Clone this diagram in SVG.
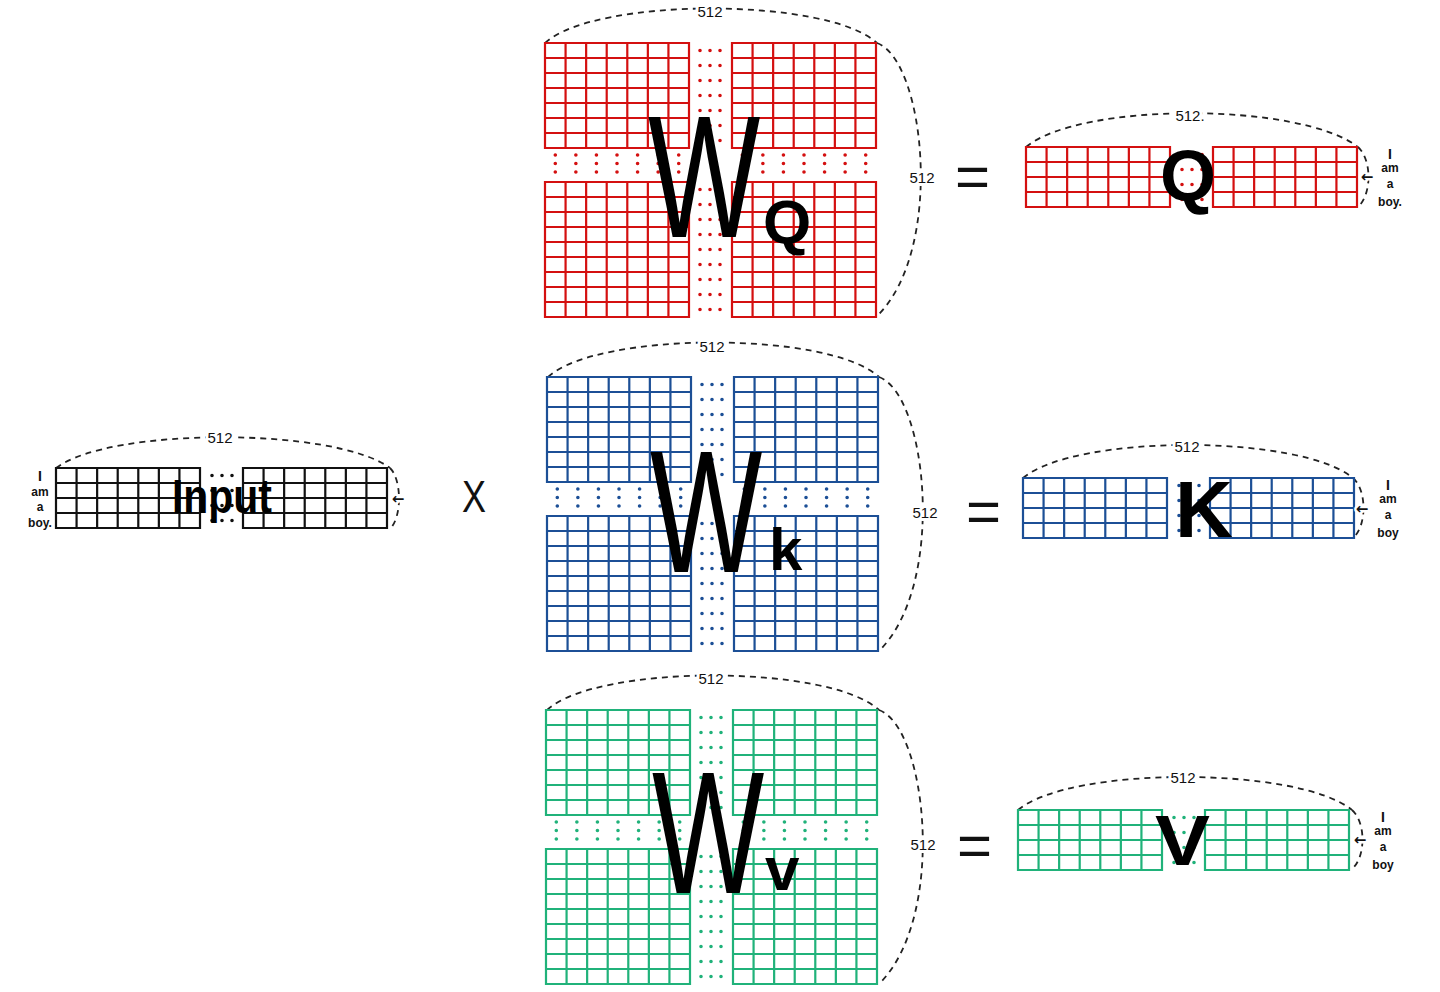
<svg xmlns="http://www.w3.org/2000/svg" xmlns:xlink="http://www.w3.org/1999/xlink" width="1440" height="992" viewBox="0 0 1440 992">
<style>
  .red{color:#d41010}
  .blue{color:#1c4f96}
  .green{color:#20b27a}
  .black{color:#111111}
  .arc{fill:none;stroke:#222;stroke-width:1.8;stroke-dasharray:6 5}
  .dim{font-family:"Liberation Sans",Arial,sans-serif;font-size:15px;fill:#111;text-anchor:middle;stroke:#fff;stroke-width:6px;paint-order:stroke;stroke-linejoin:round}
  .arrow{font-family:"DejaVu Sans",sans-serif;font-size:15px;font-weight:bold;fill:#111;text-anchor:middle;stroke:#fff;stroke-width:5px;paint-order:stroke;stroke-linejoin:round}
  .note{font-family:"Liberation Sans",Arial,sans-serif;font-size:12px;font-weight:bold;fill:#111;text-anchor:middle}
  .hand{font-family:"Liberation Sans",Arial,sans-serif;fill:#000}
  .bigw{font-family:"Liberation Sans",Arial,sans-serif;fill:#000;font-size:175px}
  .bold{font-weight:bold}
  .op{font-family:"Liberation Sans",Arial,sans-serif;fill:#111}
</style>
<defs>
  <path id="g77" fill="none" stroke="currentColor" stroke-width="2.2" d="M0,0H144V105H0Z M20.57,0V105 M41.14,0V105 M61.71,0V105 M82.29,0V105 M102.86,0V105 M123.43,0V105 M0,15H144 M0,30H144 M0,45H144 M0,60H144 M0,75H144 M0,90H144"/>
  <path id="g79" fill="none" stroke="currentColor" stroke-width="2.2" d="M0,0H144V135H0Z M20.57,0V135 M41.14,0V135 M61.71,0V135 M82.29,0V135 M102.86,0V135 M123.43,0V135 M0,15H144 M0,30H144 M0,45H144 M0,60H144 M0,75H144 M0,90H144 M0,105H144 M0,120H144"/>
  <path id="g74" fill="none" stroke="currentColor" stroke-width="2.2" d="M0,0H144V60H0Z M20.57,0V60 M41.14,0V60 M61.71,0V60 M82.29,0V60 M102.86,0V60 M123.43,0V60 M0,15H144 M0,30H144 M0,45H144"/>
  <g id="wmat">
    <use xlink:href="#g77" href="#g77" x="0" y="0"/>
    <use xlink:href="#g77" href="#g77" x="187" y="0"/>
    <use xlink:href="#g79" href="#g79" x="0" y="139"/>
    <use xlink:href="#g79" href="#g79" x="187" y="139"/>
    <path fill="none" stroke="currentColor" stroke-width="3.6" stroke-linecap="round" stroke-dasharray="0 15" d="M155,7.5V98 M165,7.5V98 M175,7.5V98 M155,146.5V267 M165,146.5V267 M175,146.5V267"/>
    <path fill="none" stroke="currentColor" stroke-width="3.6" stroke-linecap="round" stroke-dasharray="0 20.57" d="M10.3,112H135 M10.3,120.5H135 M10.3,129H135 M197.3,112H322 M197.3,120.5H322 M197.3,129H322"/>
  </g>
  <g id="vec">
    <use xlink:href="#g74" href="#g74" x="0" y="0"/>
    <use xlink:href="#g74" href="#g74" x="187" y="0"/>
    <path fill="none" stroke="currentColor" stroke-width="3.6" stroke-linecap="round" stroke-dasharray="0 15" d="M156,7.5V53 M166,7.5V53 M176,7.5V53"/>
  </g>
</defs>
<rect width="1440" height="992" fill="#ffffff"/>

<g id="connectors">
  <path class="arc" d="M56,468 C110,427 335,427 390,468"/>
  <path class="arc" d="M390,468 C402,480 402,517 390,529"/>
  <path class="arc" d="M545,43 C595,-3 827,-3 877,43"/>
  <path class="arc" d="M877,43 C925,60 945,250 877,316"/>
  <path class="arc" d="M548,377 C598,331 830,331 879,377"/>
  <path class="arc" d="M879,377 C927,394 947,584 879,651"/>
  <path class="arc" d="M547,710 C597,664 829,664 879,710"/>
  <path class="arc" d="M879,710 C927,727 947,917 879,984"/>
  <path class="arc" d="M1026,147 C1080,102 1300,102 1358,147"/>
  <path class="arc" d="M1358,147 C1372,160 1372,194 1358,207"/>
  <path class="arc" d="M1023,478 C1075,434 1300,434 1353,478"/>
  <path class="arc" d="M1353,478 C1367,490 1367,526 1353,538"/>
  <path class="arc" d="M1018,810 C1070,766 1298,766 1352,810"/>
  <path class="arc" d="M1352,810 C1366,822 1366,857 1352,869"/>
</g>

<g id="input" class="black">
  <use xlink:href="#vec" href="#vec" x="56" y="468"/>
  <text class="hand bold" x="172" y="513" font-size="48" textLength="100" lengthAdjust="spacingAndGlyphs">Input</text>
  <text class="dim" x="220" y="443">512</text>
  <text class="arrow" x="398" y="504">←</text>
  <text class="note" x="40" y="481" style="font-size:14px">I</text>
  <text class="note" x="40" y="496">am</text>
  <text class="note" x="40" y="511">a</text>
  <text class="note" x="40" y="527">boy.</text>
</g>

<g id="times">
  <text class="op" x="462" y="512" font-size="44" textLength="24" lengthAdjust="spacingAndGlyphs">X</text>
</g>

<g id="W_Q" class="red">
  <use xlink:href="#wmat" href="#wmat" x="545" y="43"/>
  <text class="bigw" transform="translate(648,237) scale(0.68,1)">W</text>
  <text class="hand bold" x="763" y="243" font-size="62">Q</text>
  <text class="dim" x="710" y="17">512</text>
  <text class="dim" x="922" y="183">512</text>
</g>

<g id="W_K" class="blue">
  <use xlink:href="#wmat" href="#wmat" x="547" y="377"/>
  <text class="bigw" transform="translate(650,572) scale(0.68,1)">W</text>
  <text class="hand bold" x="769" y="570" font-size="60">k</text>
  <text class="dim" x="712" y="352">512</text>
  <text class="dim" x="925" y="518">512</text>
</g>

<g id="W_V" class="green">
  <use xlink:href="#wmat" href="#wmat" x="546" y="710"/>
  <text class="bigw" transform="translate(652,893) scale(0.68,1)">W</text>
  <text class="hand bold" x="765" y="890" font-size="62">v</text>
  <text class="dim" x="711" y="684">512</text>
  <text class="dim" x="923" y="850">512</text>
</g>

<g id="equals">
  <text class="op" x="955" y="197" font-size="60">=</text>
  <text class="op" x="966" y="532" font-size="60">=</text>
  <text class="op" x="957" y="866" font-size="60">=</text>
</g>

<g id="Q" class="red">
  <use xlink:href="#vec" href="#vec" x="1026" y="147"/>
  <text class="hand bold" x="1160" y="201" font-size="72">Q</text>
  <text class="dim" x="1190" y="121">512.</text>
  <text class="arrow" x="1367" y="182">←</text>
  <text class="note" x="1390" y="159" style="font-size:14px">I</text>
  <text class="note" x="1390" y="172">am</text>
  <text class="note" x="1390" y="188">a</text>
  <text class="note" x="1390" y="206">boy.</text>
</g>

<g id="K" class="blue">
  <use xlink:href="#vec" href="#vec" x="1023" y="478"/>
  <text class="hand bold" x="1175" y="537" font-size="80">K</text>
  <text class="dim" x="1187" y="452">512</text>
  <text class="arrow" x="1362" y="514">←</text>
  <text class="note" x="1388" y="490" style="font-size:14px">I</text>
  <text class="note" x="1388" y="503">am</text>
  <text class="note" x="1388" y="519">a</text>
  <text class="note" x="1388" y="537">boy</text>
</g>

<g id="V" class="green">
  <use xlink:href="#vec" href="#vec" x="1018" y="810"/>
  <text class="hand bold" x="1155" y="865" font-size="70" textLength="55" lengthAdjust="spacingAndGlyphs">V</text>
  <text class="dim" x="1183" y="783">512</text>
  <text class="arrow" x="1360" y="845">←</text>
  <text class="note" x="1383" y="822" style="font-size:14px">I</text>
  <text class="note" x="1383" y="835">am</text>
  <text class="note" x="1383" y="851">a</text>
  <text class="note" x="1383" y="869">boy</text>
</g>
</svg>
